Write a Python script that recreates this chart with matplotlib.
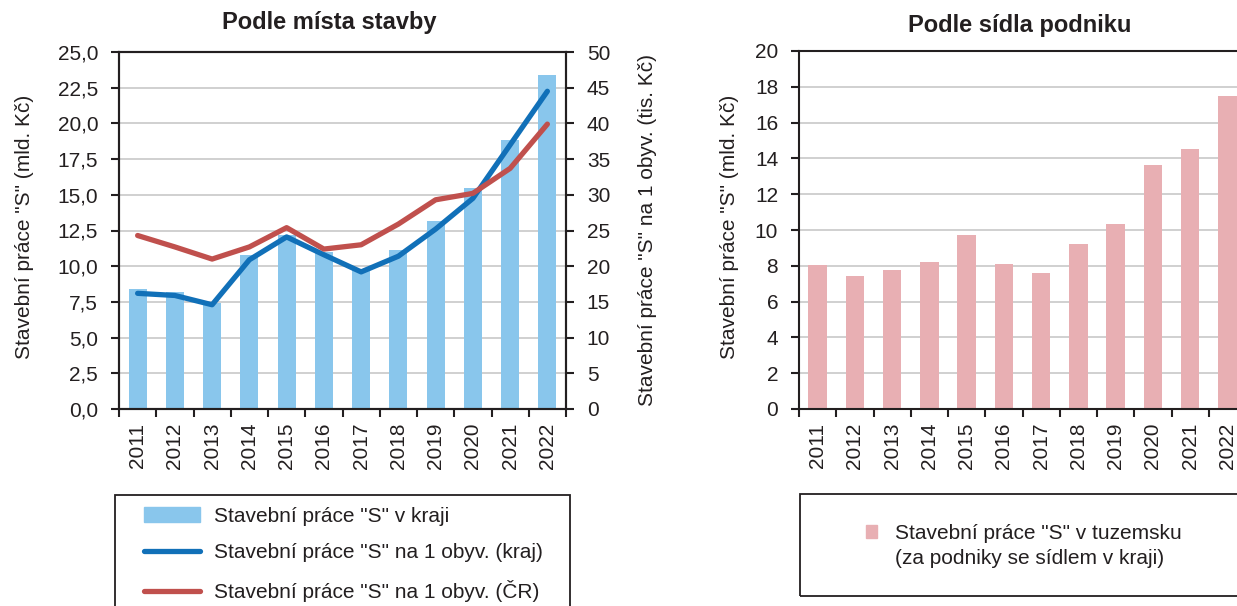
import numpy as np
import matplotlib
matplotlib.use("Agg")
import matplotlib.pyplot as plt
from matplotlib.patches import Patch, Rectangle
from matplotlib.lines import Line2D
from matplotlib.ticker import FuncFormatter

plt.rcParams['font.family'] = ['Liberation Sans', 'DejaVu Sans']

# data
years = ["2011", "2012", "2013", "2014", "2015", "2016",
         "2017", "2018", "2019", "2020", "2021", "2022"]
prace_kraj = [8.4, 8.2, 7.4, 10.8, 12.2, 11.0, 9.7, 11.1, 13.2, 15.5, 18.85, 23.4]
na_obyv_kraj = [16.2, 15.9, 14.6, 20.9, 24.1, 21.6, 19.2, 21.4, 25.2, 29.5, 37.0, 44.5]
na_obyv_cr = [24.3, 22.7, 21.0, 22.7, 25.4, 22.4, 23.0, 25.9, 29.3, 30.2, 33.7, 39.9]
prace_tuzemsko = [8.03, 7.45, 7.77, 8.23, 9.70, 8.10, 7.62, 9.22, 10.34, 13.65, 14.51, 17.47]

C_BAR = "#89C6EC"
C_BLUE = "#1170B8"
C_RED = "#C0504D"
C_PINK = "#E8AFB3"
C_TXT = "#231F20"
C_GRID = "#C8C8C8"
FS = 15
FS_TITLE = 17

W, H = 1237, 606
fig = plt.figure(figsize=(W / 100, H / 100), dpi=100)


def fx(px):
    return px / W


def fy(py):
    return 1 - py / H


def style_axis(ax):
    ax.set_axisbelow(True)
    ax.yaxis.grid(True, color=C_GRID, linewidth=1.2)
    for s in ax.spines.values():
        s.set_color(C_TXT)
        s.set_linewidth(1.5)
    x = np.arange(len(years))
    ax.set_xlim(-0.5, len(years) - 0.5)
    ax.set_xticks(x)
    ax.set_xticklabels(years, rotation=90)
    ax.set_xticks(np.arange(len(years) + 1) - 0.5, minor=True)
    ax.tick_params(axis='x', which='major', length=0, pad=10, labelsize=FS, colors=C_TXT)
    ax.tick_params(axis='x', which='minor', length=6, width=1.5, color=C_TXT)
    ax.tick_params(axis='y', length=6, width=1.5, pad=9, labelsize=FS, colors=C_TXT)


x = np.arange(len(years))

# left chart
ax1 = fig.add_axes([fx(119), fy(409), fx(447), fy(52) - fy(409)])
ax1.bar(x, prace_kraj, width=0.48, color=C_BAR)
ax1.set_ylim(0, 25)
ax1.set_yticks(np.arange(0, 25.1, 2.5))
ax1.yaxis.set_major_formatter(FuncFormatter(lambda v, p: f"{v:.1f}".replace(".", ",")))
style_axis(ax1)
ax1.set_ylabel('Stavební práce "S" (mld. Kč)', fontsize=FS, color=C_TXT)
ax1.yaxis.set_label_coords(-0.19, 0.51)

ax2 = ax1.twinx()
ax2.plot(x, na_obyv_kraj, color=C_BLUE, linewidth=3.8, solid_capstyle='round')
ax2.plot(x, na_obyv_cr, color=C_RED, linewidth=3.8, solid_capstyle='round')
ax2.set_ylim(0, 50)
ax2.set_yticks(np.arange(0, 51, 5))
ax2.tick_params(axis='y', length=6, width=1.5, pad=9, labelsize=FS, colors=C_TXT)
for s in ax2.spines.values():
    s.set_color(C_TXT)
    s.set_linewidth(1.5)
ax2.set_ylabel('Stavební práce "S" na 1 obyv. (tis. Kč)', fontsize=FS, color=C_TXT)
ax2.yaxis.set_label_coords(1.161, 0.5)

fig.text(fx(329), fy(29), "Podle místa stavby", ha='center', va='baseline',
         fontsize=FS_TITLE, fontweight='bold', color=C_TXT)

# right chart
ax3 = fig.add_axes([fx(799), fy(409), fx(447), fy(51) - fy(409)])
ax3.bar(x, prace_tuzemsko, width=0.5, color=C_PINK)
ax3.set_ylim(0, 20)
ax3.set_yticks(np.arange(0, 21, 2))
style_axis(ax3)
ax3.set_ylabel('Stavební práce "S" (mld. Kč)', fontsize=FS, color=C_TXT)
ax3.yaxis.set_label_coords(-0.134, 0.51)

fig.text(fx(1020), fy(32), "Podle sídla podniku", ha='center', va='baseline',
         fontsize=FS_TITLE, fontweight='bold', color=C_TXT)

# legend boxes
fig.patches.append(Rectangle((fx(115), fy(615)), fx(455), fy(495) - fy(615),
                             transform=fig.transFigure, fill=False,
                             edgecolor=C_TXT, linewidth=1.3))
fig.patches.append(Rectangle((fx(800), fy(596)), fx(460), fy(494) - fy(596),
                             transform=fig.transFigure, fill=False,
                             edgecolor=C_TXT, linewidth=1.3))

h1 = [Patch(color=C_BAR),
      Line2D([], [], color=C_BLUE, linewidth=3.8, solid_capstyle='round'),
      Line2D([], [], color=C_RED, linewidth=3.8, solid_capstyle='round')]
l1 = ['Stavební práce "S" v kraji',
      'Stavební práce "S" na 1 obyv. (kraj)',
      'Stavební práce "S" na 1 obyv. (ČR)']
fig.legend(h1, l1, loc='upper left', bbox_to_anchor=(fx(144), fy(507)),
           frameon=False, fontsize=FS, handlelength=2.7, handletextpad=0.67,
           labelspacing=0.84, borderaxespad=0, borderpad=0, labelcolor=C_TXT)

h2 = [Patch(color=C_PINK), Patch(alpha=0)]
l2 = ['Stavební práce "S" v tuzemsku', '(za podniky se sídlem v kraji)']
fig.legend(h2, l2, loc='upper left', bbox_to_anchor=(fx(866), fy(524)),
           frameon=False, fontsize=FS, handlelength=0.53, handleheight=0.53,
           handletextpad=0.85, labelspacing=0.3, borderaxespad=0, borderpad=0,
           labelcolor=C_TXT)

fig.savefig("out.png", dpi=100)
